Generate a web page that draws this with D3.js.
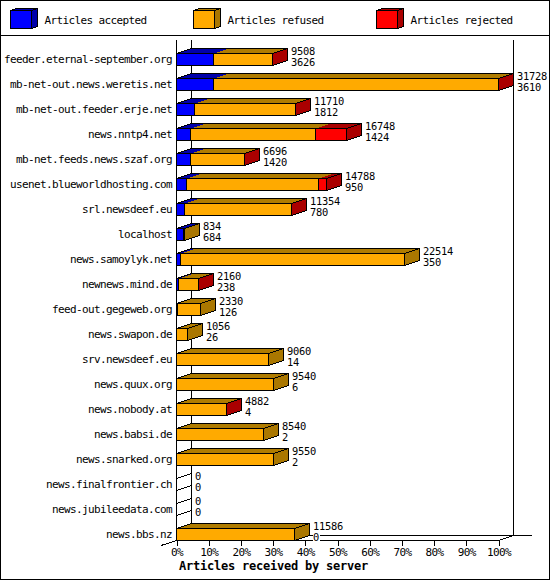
<!DOCTYPE html>
<html>
<head>
<meta charset="utf-8">
<script src="https://cdn.jsdelivr.net/npm/d3@7"></script>
<style>
  html, body { margin: 0; padding: 0; background: #fff; }
  svg { display: block; }
  text { font-family: "DejaVu Sans Mono", monospace; font-size: 11px; letter-spacing: -0.62px; fill: #000; }
  .title { font-size: 12px; letter-spacing: -0.22px; font-weight: bold; }
  .value { font-size: 10.4px; letter-spacing: -0.26px; }
</style>
</head>
<body>
<div id="chart"></div>
<script>
const hosts = ["feeder.eternal-september.org", "mb-net-out.news.weretis.net", "mb-net-out.feeder.erje.net",
  "news.nntp4.net", "mb-net.feeds.news.szaf.org", "usenet.blueworldhosting.com", "srl.newsdeef.eu", "localhost",
  "news.samoylyk.net", "newnews.mind.de", "feed-out.gegeweb.org", "news.swapon.de", "srv.newsdeef.eu",
  "news.quux.org", "news.nobody.at", "news.babsi.de", "news.snarked.org", "news.finalfrontier.ch",
  "news.jubileedata.com", "news.bbs.nz"];
const totals = [9508, 31728, 11710, 16748, 6696, 14788, 11354, 834, 22514, 2160, 2330, 1056, 9060, 9540, 4882, 8540, 9550, 0, 0, 11586];
const accepted = [3626, 3610, 1812, 1424, 1420, 950, 780, 684, 350, 238, 126, 26, 14, 6, 4, 2, 2, 0, 0, 0];
const rejected = [12, 25, 6, 3100, 8, 800, 4, 0, 0, 2, 0, 0, 0, 0, 3, 0, 0, 0, 0, 0];
const ticks = [0, 10, 20, 30, 40, 50, 60, 70, 80, 90, 100];
const legend = ["Articles accepted", "Articles refused", "Articles rejected"];
const fronts = ["#0000ff", "#ffaa00", "#ff0000"];
const darks = ["#0000aa", "#b07c00", "#aa0000"];
const sideBrown = "#aa7700";

const W = 550, H = 580;
const depthX = 15, depthY = 5, barH = 12;
const maxTotal = d3.max(totals);

const svg = d3.select("#chart").append("svg").attr("width", W).attr("height", H);
const crisp = s => s.attr("shape-rendering", "crispEdges");
const poly = pts => pts.map(p => p.join(",")).join(" ");

const x = d3.scaleLinear().domain([0, 100]).range([176.5, 498.5]);
const y = d3.scalePoint().domain(hosts).range([53.5, 528.5]);
const px = v => Math.round(x(v / maxTotal * 100) - 0.5) + 0.5;

// frame and legend strip
svg.append("rect").attr("x", 0.5).attr("y", 0.5).attr("width", W - 1).attr("height", H - 1)
  .attr("fill", "#fff").attr("stroke", "#000").call(crisp);
svg.append("line").attr("x1", 0).attr("x2", W).attr("y1", 35.5).attr("y2", 35.5).attr("stroke", "#000").call(crisp);

const legendX = d3.scalePoint().domain(legend).range([10.5, 376.5]);
legend.forEach((name, i) => {
  const lx = legendX(name), g = svg.append("g");
  g.append("polygon").attr("points", poly([[lx, 10.5], [lx + 6, 8.5], [lx + 27, 8.5], [lx + 21, 10.5]]))
    .attr("fill", darks[i]).attr("stroke", "#000").call(crisp);
  g.append("polygon").attr("points", poly([[lx + 21, 10.5], [lx + 27, 8.5], [lx + 27, 26.5], [lx + 21, 28.5]]))
    .attr("fill", i == 1 ? sideBrown : darks[i]).attr("stroke", "#000").call(crisp);
  g.append("rect").attr("x", lx).attr("y", 10.5).attr("width", 21).attr("height", 18)
    .attr("fill", fronts[i]).attr("stroke", "#000").call(crisp);
  g.append("text").attr("x", lx + 34).attr("y", 24).text(name);
});

// chart walls
const walls = [[x(0), 40, x(0), 540.5], [x(0) + depthX, 40, x(0) + depthX, 535.5],
  [x(100) + depthX, 40, x(100) + depthX, 535.5], [x(0) + depthX, 535.5, 531.5, 535.5],
  [x(0), 540.5, x(100), 540.5], [x(100), 540.5, x(100) + depthX, 535.5], [161, 545.5, x(0), 540.5]];
svg.selectAll(".wall").data(walls).enter().append("line").attr("class", "wall")
  .attr("x1", d => d[0]).attr("y1", d => d[1]).attr("x2", d => d[2]).attr("y2", d => d[3])
  .attr("stroke", "#000").call(crisp);

// x axis
const axis = svg.append("g").attr("transform", "translate(0,540.5)")
  .call(d3.axisBottom(x).tickValues(ticks).tickSize(5).tickPadding(3).tickFormat(d => d + "%"));
axis.select(".domain").remove();
axis.selectAll("line").attr("stroke", "#000").call(crisp);
axis.selectAll("text").style("font-family", '"DejaVu Sans Mono", monospace').style("font-size", "11px");

svg.append("text").attr("class", "title").attr("x", 179).attr("y", 570).text("Articles received by server");

// bars
hosts.forEach((host, i) => {
  const top = y(host), total = totals[i];
  const refused = total - accepted[i] - rejected[i];
  const parts = [accepted[i], refused, rejected[i]];
  const g = svg.append("g");

  g.append("text").attr("x", 172).attr("y", top + 9.5).attr("text-anchor", "end").text(host);

  const x1 = px(total);
  let start = 0, last = -1;
  parts.forEach((v, k) => {
    if (v <= 0) return;
    last = k;
    const a = px(start), b = px(start + v);
    start += v;
    if (b == a) return;
    g.append("polygon").attr("points", poly([[a, top], [a + depthX, top - depthY], [b + depthX, top - depthY], [b, top]]))
      .attr("fill", darks[k]).call(crisp);
    g.append("rect").attr("x", a).attr("y", top).attr("width", b - a).attr("height", barH)
      .attr("fill", fronts[k]).attr("stroke", "#000").call(crisp);
  });

  const x0 = x(0);
  g.append("polygon").attr("points", poly([[x0, top], [x0 + depthX, top - depthY], [x1 + depthX, top - depthY], [x1, top]]))
    .attr("fill", "none").attr("stroke", "#000").call(crisp);
  g.append("polygon").attr("points", poly([[x1, top], [x1 + depthX, top - depthY], [x1 + depthX, top + barH - depthY], [x1, top + barH]]))
    .attr("fill", last < 0 ? "none" : last == 1 ? sideBrown : darks[last]).attr("stroke", "#000").call(crisp);

  const lx = x1 + depthX + 3.5;
  if (accepted[i] == 0)
    g.append("rect").attr("x", lx).attr("y", top + 5).attr("width", 7).attr("height", 9).attr("fill", "#fff");
  g.append("text").attr("class", "value").attr("x", lx).attr("y", top + 1).text(total);
  g.append("text").attr("class", "value").attr("x", lx).attr("y", top + 12).text(accepted[i]);
});
</script>
</body>
</html>
